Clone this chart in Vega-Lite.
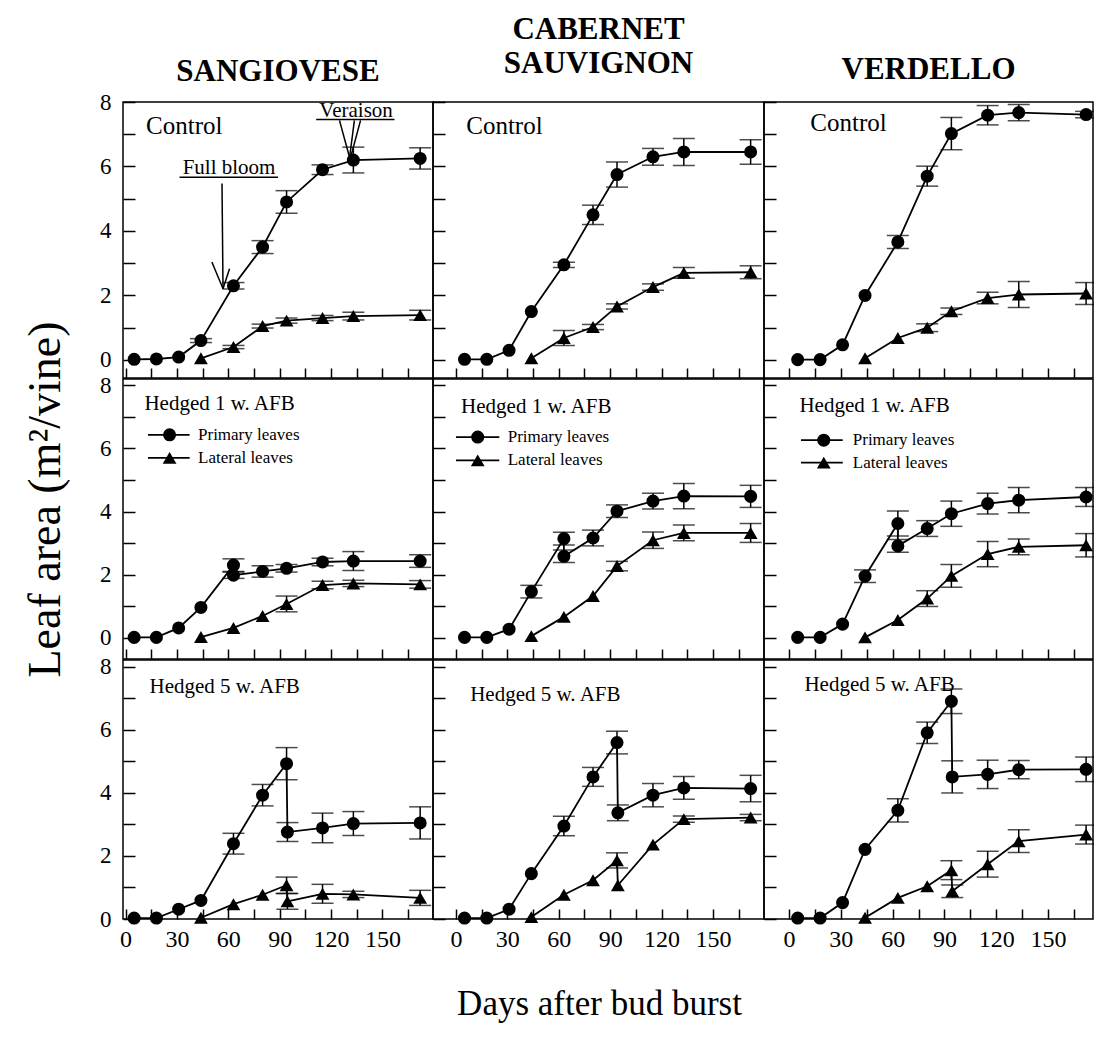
{
"$schema": "https://vega.github.io/schema/vega-lite/v6.json",
"background": "white",
"padding": {"left": 21, "top": 13, "right": 0, "bottom": 10},
"config": {
  "view": {"stroke": "black", "strokeWidth": 1.5},
  "axis": {"domain": false, "grid": false, "ticks": true, "tickColor": "black", "tickWidth": 1.5, "labelFont": "Liberation Serif", "labelColor": "black", "titleFont": "Liberation Serif", "titleColor": "black", "titleFontWeight": "normal", "minExtent": 0},
  "text": {"font": "Liberation Serif", "color": "black"},
  "title": {"font": "Liberation Serif", "color": "black"}
},
"datasets": {
  "pts": [
    {"p":"S1","s":"P","i":1,"d":5,"v":0.02,"e":0},{"p":"S1","s":"P","i":2,"d":18,"v":0.03,"e":0},{"p":"S1","s":"P","i":3,"d":31,"v":0.09,"e":0},{"p":"S1","s":"P","i":4,"d":44,"v":0.6,"e":0.06},{"p":"S1","s":"P","i":5,"d":63,"v":2.3,"e":0.1},{"p":"S1","s":"P","i":6,"d":80,"v":3.5,"e":0.2},{"p":"S1","s":"P","i":7,"d":94,"v":4.9,"e":0.35},{"p":"S1","s":"P","i":8,"d":115,"v":5.9,"e":0.15},{"p":"S1","s":"P","i":9,"d":133,"v":6.2,"e":0.4},{"p":"S1","s":"P","i":10,"d":172,"v":6.25,"e":0.33},
    {"p":"S1","s":"L","i":1,"d":44,"v":0.05,"e":0},{"p":"S1","s":"L","i":2,"d":63,"v":0.4,"e":0.05},{"p":"S1","s":"L","i":3,"d":80,"v":1.05,"e":0.06},{"p":"S1","s":"L","i":4,"d":94,"v":1.22,"e":0.08},{"p":"S1","s":"L","i":5,"d":115,"v":1.3,"e":0.08},{"p":"S1","s":"L","i":6,"d":133,"v":1.36,"e":0.12},{"p":"S1","s":"L","i":7,"d":172,"v":1.39,"e":0.15},
    {"p":"C1","s":"P","i":1,"d":5,"v":0.02,"e":0},{"p":"C1","s":"P","i":2,"d":18,"v":0.02,"e":0},{"p":"C1","s":"P","i":3,"d":31,"v":0.3,"e":0},{"p":"C1","s":"P","i":4,"d":44,"v":1.5,"e":0},{"p":"C1","s":"P","i":5,"d":63,"v":2.95,"e":0.08},{"p":"C1","s":"P","i":6,"d":80,"v":4.5,"e":0.3},{"p":"C1","s":"P","i":7,"d":94,"v":5.75,"e":0.39},{"p":"C1","s":"P","i":8,"d":115,"v":6.3,"e":0.26},{"p":"C1","s":"P","i":9,"d":133,"v":6.45,"e":0.42},{"p":"C1","s":"P","i":10,"d":172,"v":6.45,"e":0.38},
    {"p":"C1","s":"L","i":1,"d":44,"v":0.05,"e":0},{"p":"C1","s":"L","i":2,"d":63,"v":0.68,"e":0.23},{"p":"C1","s":"L","i":3,"d":80,"v":1.02,"e":0.08},{"p":"C1","s":"L","i":4,"d":94,"v":1.66,"e":0.08},{"p":"C1","s":"L","i":5,"d":115,"v":2.26,"e":0.1},{"p":"C1","s":"L","i":6,"d":133,"v":2.7,"e":0.17},{"p":"C1","s":"L","i":7,"d":172,"v":2.72,"e":0.2},
    {"p":"V1","s":"P","i":1,"d":5,"v":0.01,"e":0},{"p":"V1","s":"P","i":2,"d":18,"v":0.01,"e":0},{"p":"V1","s":"P","i":3,"d":31,"v":0.47,"e":0},{"p":"V1","s":"P","i":4,"d":44,"v":2.0,"e":0},{"p":"V1","s":"P","i":5,"d":63,"v":3.66,"e":0.2},{"p":"V1","s":"P","i":6,"d":80,"v":5.7,"e":0.31},{"p":"V1","s":"P","i":7,"d":94,"v":7.02,"e":0.5},{"p":"V1","s":"P","i":8,"d":115,"v":7.59,"e":0.3},{"p":"V1","s":"P","i":9,"d":133,"v":7.67,"e":0.25},{"p":"V1","s":"P","i":10,"d":172,"v":7.61,"e":0.1},
    {"p":"V1","s":"L","i":1,"d":44,"v":0.05,"e":0},{"p":"V1","s":"L","i":2,"d":63,"v":0.68,"e":0},{"p":"V1","s":"L","i":3,"d":80,"v":1.0,"e":0.12},{"p":"V1","s":"L","i":4,"d":94,"v":1.51,"e":0.1},{"p":"V1","s":"L","i":5,"d":115,"v":1.92,"e":0.18},{"p":"V1","s":"L","i":6,"d":133,"v":2.03,"e":0.4},{"p":"V1","s":"L","i":7,"d":172,"v":2.06,"e":0.34},
    {"p":"S2","s":"P","i":1,"d":5,"v":0.01,"e":0},{"p":"S2","s":"P","i":2,"d":18,"v":0.01,"e":0},{"p":"S2","s":"P","i":3,"d":31,"v":0.31,"e":0},{"p":"S2","s":"P","i":4,"d":44,"v":0.96,"e":0},{"p":"S2","s":"P","i":5,"d":63,"v":2.3,"e":0.2},{"p":"S2","s":"P","i":6,"d":63,"v":1.98,"e":0.1},{"p":"S2","s":"P","i":7,"d":80,"v":2.1,"e":0.18},{"p":"S2","s":"P","i":8,"d":94,"v":2.2,"e":0.12},{"p":"S2","s":"P","i":9,"d":115,"v":2.4,"e":0.12},{"p":"S2","s":"P","i":10,"d":133,"v":2.43,"e":0.3},{"p":"S2","s":"P","i":11,"d":172,"v":2.43,"e":0.2},
    {"p":"S2","s":"L","i":1,"d":44,"v":0.02,"e":0},{"p":"S2","s":"L","i":2,"d":63,"v":0.31,"e":0},{"p":"S2","s":"L","i":3,"d":80,"v":0.69,"e":0},{"p":"S2","s":"L","i":4,"d":94,"v":1.07,"e":0.25},{"p":"S2","s":"L","i":5,"d":115,"v":1.67,"e":0.12},{"p":"S2","s":"L","i":6,"d":133,"v":1.72,"e":0.1},{"p":"S2","s":"L","i":7,"d":172,"v":1.69,"e":0.12},
    {"p":"C2","s":"P","i":1,"d":5,"v":0.01,"e":0},{"p":"C2","s":"P","i":2,"d":18,"v":0.01,"e":0},{"p":"C2","s":"P","i":3,"d":31,"v":0.27,"e":0},{"p":"C2","s":"P","i":4,"d":44,"v":1.46,"e":0.2},{"p":"C2","s":"P","i":5,"d":63,"v":3.14,"e":0.2},{"p":"C2","s":"P","i":6,"d":63,"v":2.58,"e":0.2},{"p":"C2","s":"P","i":7,"d":80,"v":3.16,"e":0.25},{"p":"C2","s":"P","i":8,"d":94,"v":4.01,"e":0.2},{"p":"C2","s":"P","i":9,"d":115,"v":4.33,"e":0.25},{"p":"C2","s":"P","i":10,"d":133,"v":4.49,"e":0.4},{"p":"C2","s":"P","i":11,"d":172,"v":4.48,"e":0.35},
    {"p":"C2","s":"L","i":1,"d":44,"v":0.05,"e":0},{"p":"C2","s":"L","i":2,"d":63,"v":0.66,"e":0},{"p":"C2","s":"L","i":3,"d":80,"v":1.32,"e":0},{"p":"C2","s":"L","i":4,"d":94,"v":2.27,"e":0.15},{"p":"C2","s":"L","i":5,"d":115,"v":3.09,"e":0.26},{"p":"C2","s":"L","i":6,"d":133,"v":3.32,"e":0.25},{"p":"C2","s":"L","i":7,"d":172,"v":3.32,"e":0.3},
    {"p":"V2","s":"P","i":1,"d":5,"v":0.01,"e":0},{"p":"V2","s":"P","i":2,"d":18,"v":0.01,"e":0},{"p":"V2","s":"P","i":3,"d":31,"v":0.43,"e":0},{"p":"V2","s":"P","i":4,"d":44,"v":1.95,"e":0.2},{"p":"V2","s":"P","i":5,"d":63,"v":3.62,"e":0.4},{"p":"V2","s":"P","i":6,"d":63,"v":2.91,"e":0.2},{"p":"V2","s":"P","i":7,"d":80,"v":3.46,"e":0.25},{"p":"V2","s":"P","i":8,"d":94,"v":3.93,"e":0.4},{"p":"V2","s":"P","i":9,"d":115,"v":4.25,"e":0.33},{"p":"V2","s":"P","i":10,"d":133,"v":4.36,"e":0.4},{"p":"V2","s":"P","i":11,"d":172,"v":4.46,"e":0.3},
    {"p":"V2","s":"L","i":1,"d":44,"v":0.01,"e":0},{"p":"V2","s":"L","i":2,"d":63,"v":0.56,"e":0},{"p":"V2","s":"L","i":3,"d":80,"v":1.24,"e":0.25},{"p":"V2","s":"L","i":4,"d":94,"v":1.96,"e":0.36},{"p":"V2","s":"L","i":5,"d":115,"v":2.65,"e":0.4},{"p":"V2","s":"L","i":6,"d":133,"v":2.88,"e":0.25},{"p":"V2","s":"L","i":7,"d":172,"v":2.93,"e":0.37},
    {"p":"S3","s":"P","i":1,"d":5,"v":0.03,"e":0},{"p":"S3","s":"P","i":2,"d":18,"v":0.03,"e":0},{"p":"S3","s":"P","i":3,"d":31,"v":0.31,"e":0},{"p":"S3","s":"P","i":4,"d":44,"v":0.59,"e":0},{"p":"S3","s":"P","i":5,"d":63,"v":2.39,"e":0.33},{"p":"S3","s":"P","i":6,"d":80,"v":3.93,"e":0.34},{"p":"S3","s":"P","i":7,"d":94,"v":4.93,"e":0.51},{"p":"S3","s":"P","i":8,"d":94.5,"v":2.76,"e":0.3},{"p":"S3","s":"P","i":9,"d":115,"v":2.89,"e":0.47},{"p":"S3","s":"P","i":10,"d":133,"v":3.03,"e":0.38},{"p":"S3","s":"P","i":11,"d":172,"v":3.05,"e":0.51},
    {"p":"S3","s":"L","i":1,"d":44,"v":0.04,"e":0},{"p":"S3","s":"L","i":2,"d":63,"v":0.47,"e":0},{"p":"S3","s":"L","i":3,"d":80,"v":0.77,"e":0},{"p":"S3","s":"L","i":4,"d":94,"v":1.07,"e":0.26},{"p":"S3","s":"L","i":5,"d":94.5,"v":0.56,"e":0.25},{"p":"S3","s":"L","i":6,"d":115,"v":0.8,"e":0.3},{"p":"S3","s":"L","i":7,"d":133,"v":0.78,"e":0.1},{"p":"S3","s":"L","i":8,"d":172,"v":0.67,"e":0.24},
    {"p":"C3","s":"P","i":1,"d":5,"v":0.03,"e":0},{"p":"C3","s":"P","i":2,"d":18,"v":0.03,"e":0},{"p":"C3","s":"P","i":3,"d":31,"v":0.31,"e":0},{"p":"C3","s":"P","i":4,"d":44,"v":1.44,"e":0},{"p":"C3","s":"P","i":5,"d":63,"v":2.95,"e":0.31},{"p":"C3","s":"P","i":6,"d":80,"v":4.51,"e":0.3},{"p":"C3","s":"P","i":7,"d":94,"v":5.6,"e":0.36},{"p":"C3","s":"P","i":8,"d":94.5,"v":3.37,"e":0.25},{"p":"C3","s":"P","i":9,"d":115,"v":3.93,"e":0.37},{"p":"C3","s":"P","i":10,"d":133,"v":4.16,"e":0.36},{"p":"C3","s":"P","i":11,"d":172,"v":4.14,"e":0.42},
    {"p":"C3","s":"L","i":1,"d":44,"v":0.06,"e":0},{"p":"C3","s":"L","i":2,"d":63,"v":0.77,"e":0},{"p":"C3","s":"L","i":3,"d":80,"v":1.23,"e":0},{"p":"C3","s":"L","i":4,"d":94,"v":1.86,"e":0.24},{"p":"C3","s":"L","i":5,"d":94.5,"v":1.07,"e":0},{"p":"C3","s":"L","i":6,"d":115,"v":2.36,"e":0},{"p":"C3","s":"L","i":7,"d":133,"v":3.17,"e":0.1},{"p":"C3","s":"L","i":8,"d":172,"v":3.22,"e":0.1},
    {"p":"V3","s":"P","i":1,"d":5,"v":0.03,"e":0},{"p":"V3","s":"P","i":2,"d":18,"v":0.03,"e":0},{"p":"V3","s":"P","i":3,"d":31,"v":0.52,"e":0},{"p":"V3","s":"P","i":4,"d":44,"v":2.21,"e":0},{"p":"V3","s":"P","i":5,"d":63,"v":3.45,"e":0.37},{"p":"V3","s":"P","i":6,"d":80,"v":5.91,"e":0.34},{"p":"V3","s":"P","i":7,"d":94,"v":6.91,"e":0.39},{"p":"V3","s":"P","i":8,"d":94.5,"v":4.51,"e":0.51},{"p":"V3","s":"P","i":9,"d":115,"v":4.59,"e":0.45},{"p":"V3","s":"P","i":10,"d":133,"v":4.74,"e":0.29},{"p":"V3","s":"P","i":11,"d":172,"v":4.75,"e":0.39},
    {"p":"V3","s":"L","i":1,"d":44,"v":0.04,"e":0},{"p":"V3","s":"L","i":2,"d":63,"v":0.67,"e":0},{"p":"V3","s":"L","i":3,"d":80,"v":1.04,"e":0},{"p":"V3","s":"L","i":4,"d":94,"v":1.55,"e":0.3},{"p":"V3","s":"L","i":5,"d":94.5,"v":0.88,"e":0.2},{"p":"V3","s":"L","i":6,"d":115,"v":1.74,"e":0.41},{"p":"V3","s":"L","i":7,"d":133,"v":2.47,"e":0.36},{"p":"V3","s":"L","i":8,"d":172,"v":2.68,"e":0.3}
  ],
  "lab": [
    {"p":"S1","d":12,"v":7.26,"t":"Control"},{"p":"C1","d":6,"v":7.26,"t":"Control"},{"p":"V1","d":12.3,"v":7.36,"t":"Control"},
    {"p":"S2","d":11,"v":7.41,"t":"Hedged 1 w. AFB"},{"p":"C2","d":3,"v":7.31,"t":"Hedged 1 w. AFB"},{"p":"V2","d":6,"v":7.36,"t":"Hedged 1 w. AFB"},
    {"p":"S3","d":14,"v":7.37,"t":"Hedged 5 w. AFB"},{"p":"C3","d":8.3,"v":7.1,"t":"Hedged 5 w. AFB"},{"p":"V3","d":8.9,"v":7.42,"t":"Hedged 5 w. AFB"}
  ],
  "legl": [
    {"p":"S2","d":13.1,"d2":37.4,"v":6.43},{"p":"S2","d":13.1,"d2":37.4,"v":5.7},
    {"p":"C2","d":0,"d2":25.3,"v":6.36},{"p":"C2","d":0,"d2":25.3,"v":5.62},
    {"p":"V2","d":6.9,"d2":31.1,"v":6.26},{"p":"V2","d":6.9,"d2":31.1,"v":5.55}
  ],
  "legp": [
    {"p":"S2","s":"P","d":25.7,"v":6.43},{"p":"S2","s":"L","d":25.7,"v":5.7},
    {"p":"C2","s":"P","d":12.7,"v":6.36},{"p":"C2","s":"L","d":12.7,"v":5.62},
    {"p":"V2","s":"P","d":20.1,"v":6.26},{"p":"V2","s":"L","d":20.1,"v":5.55}
  ],
  "legt": [
    {"p":"S2","d":42.3,"v":6.43,"t":"Primary leaves"},{"p":"S2","d":42.3,"v":5.7,"t":"Lateral leaves"},
    {"p":"C2","d":30.2,"v":6.36,"t":"Primary leaves"},{"p":"C2","d":30.2,"v":5.62,"t":"Lateral leaves"},
    {"p":"V2","d":36.9,"v":6.26,"t":"Primary leaves"},{"p":"V2","d":36.9,"v":5.55,"t":"Lateral leaves"}
  ],
  "seg": [
    {"d":31.5,"v":5.67,"d2":89,"v2":5.67},{"d":56.3,"v":5.47,"d2":56.9,"v2":2.21},{"d":50.4,"v":3.04,"d2":56.9,"v2":2.21},{"d":60.7,"v":2.83,"d2":56.9,"v2":2.21},
    {"d":111.3,"v":7.46,"d2":157,"v2":7.46},{"d":124.9,"v":7.43,"d2":130.8,"v2":6.28},{"d":133.6,"v":7.43,"d2":130.8,"v2":6.28},{"d":137.2,"v":7.43,"d2":131.5,"v2":6.3}
  ],
  "note": [
    {"d":60.4,"v":5.95,"t":"Full bloom"},{"d":134.6,"v":7.71,"t":"Veraison"}
  ]
},
"columns": 3,
"spacing": {"row": 1, "column": 0},
"bounds": "flush",
"concat": [
  {
    "width": 310, "height": 276,
    "title": {"text": "SANGIOVESE", "fontSize": 31, "fontWeight": "bold", "baseline": "bottom", "offset": -28, "anchor": "middle"},
    "encoding": {
      "x": {"field": "d", "type": "quantitative", "scale": {"domain": [-1.5, 179.5], "nice": false, "zero": false}, "axis": {"values": [0,15,30,45,60,75,90,105,120,135,150,165], "labels": false, "tickSize": -10, "title": null}},
      "y": {"field": "v", "type": "quantitative", "scale": {"domain": [-0.56, 8], "nice": false, "zero": false}, "axis": {"values": [0,1,2,3,4,5,6,7,8], "labelExpr": "datum.value % 2 == 0 ? datum.label : ''", "labelFontSize": 23, "labelPadding": 24, "labelFlush": false, "labelOverlap": false, "tickSize": -12, "title": null}}
    },
    "layer": [
      {"data": {"name": "pts"}, "transform": [{"filter": "datum.p == 'S1' && datum.e > 0"}], "mark": {"type": "errorbar", "ticks": true, "size": 22, "thickness": 1.5, "color": "black"}, "encoding": {"yError": {"field": "e"}}},
      {"data": {"name": "pts"}, "transform": [{"filter": "datum.p == 'S1'"}], "mark": {"type": "line", "color": "black", "strokeWidth": 1.8}, "encoding": {"detail": {"field": "s"}, "order": {"field": "i", "type": "quantitative"}}},
      {"data": {"name": "pts"}, "transform": [{"filter": "datum.p == 'S1'"}], "mark": {"type": "point", "filled": true, "color": "black", "opacity": 1}, "encoding": {"shape": {"field": "s", "type": "nominal", "scale": {"domain": ["P","L"], "range": ["circle","triangle-up"]}, "legend": null}, "size": {"condition": {"test": "datum.s == 'P'", "value": 170}, "value": 190}}},
      {"data": {"name": "lab"}, "transform": [{"filter": "datum.p == 'S1'"}], "mark": {"type": "text", "align": "left", "baseline": "middle", "fontSize": 25}, "encoding": {"text": {"field": "t"}}},
      {"data": {"name": "seg"}, "mark": {"type": "rule", "color": "black", "strokeWidth": 1.5}, "encoding": {"x2": {"field": "d2"}, "y2": {"field": "v2"}}},
      {"data": {"name": "note"}, "mark": {"type": "text", "align": "center", "baseline": "middle", "fontSize": 21}, "encoding": {"text": {"field": "t"}}}
    ]
  },
  {
    "width": 331, "height": 276,
    "title": {"text": ["CABERNET", "SAUVIGNON"], "fontSize": 31, "fontWeight": "bold", "baseline": "bottom", "offset": -10, "lineHeight": 34, "anchor": "middle"},
    "encoding": {
      "x": {"field": "d", "type": "quantitative", "scale": {"domain": [-13.4, 179.8], "nice": false, "zero": false}, "axis": {"values": [0,15,30,45,60,75,90,105,120,135,150,165], "labels": false, "tickSize": -10, "title": null}},
      "y": {"field": "v", "type": "quantitative", "scale": {"domain": [-0.56, 8], "nice": false, "zero": false}, "axis": {"values": [0,1,2,3,4,5,6,7,8], "labels": false, "tickSize": -12, "title": null}}
    },
    "layer": [
      {"data": {"name": "pts"}, "transform": [{"filter": "datum.p == 'C1' && datum.e > 0"}], "mark": {"type": "errorbar", "ticks": true, "size": 22, "thickness": 1.5, "color": "black"}, "encoding": {"yError": {"field": "e"}}},
      {"data": {"name": "pts"}, "transform": [{"filter": "datum.p == 'C1'"}], "mark": {"type": "line", "color": "black", "strokeWidth": 1.8}, "encoding": {"detail": {"field": "s"}, "order": {"field": "i", "type": "quantitative"}}},
      {"data": {"name": "pts"}, "transform": [{"filter": "datum.p == 'C1'"}], "mark": {"type": "point", "filled": true, "color": "black", "opacity": 1}, "encoding": {"shape": {"field": "s", "type": "nominal", "scale": {"domain": ["P","L"], "range": ["circle","triangle-up"]}, "legend": null}, "size": {"condition": {"test": "datum.s == 'P'", "value": 170}, "value": 190}}},
      {"data": {"name": "lab"}, "transform": [{"filter": "datum.p == 'C1'"}], "mark": {"type": "text", "align": "left", "baseline": "middle", "fontSize": 25}, "encoding": {"text": {"field": "t"}}}
    ]
  },
  {
    "width": 329, "height": 276,
    "title": {"text": "VERDELLO", "fontSize": 31, "fontWeight": "bold", "baseline": "bottom", "offset": -16, "anchor": "middle"},
    "encoding": {
      "x": {"field": "d", "type": "quantitative", "scale": {"domain": [-14.5, 176], "nice": false, "zero": false}, "axis": {"values": [0,15,30,45,60,75,90,105,120,135,150,165], "labels": false, "tickSize": -10, "title": null}},
      "y": {"field": "v", "type": "quantitative", "scale": {"domain": [-0.56, 8], "nice": false, "zero": false}, "axis": {"values": [0,1,2,3,4,5,6,7,8], "labels": false, "tickSize": -12, "title": null}}
    },
    "layer": [
      {"data": {"name": "pts"}, "transform": [{"filter": "datum.p == 'V1' && datum.e > 0"}], "mark": {"type": "errorbar", "ticks": true, "size": 22, "thickness": 1.5, "color": "black"}, "encoding": {"yError": {"field": "e"}}},
      {"data": {"name": "pts"}, "transform": [{"filter": "datum.p == 'V1'"}], "mark": {"type": "line", "color": "black", "strokeWidth": 1.8}, "encoding": {"detail": {"field": "s"}, "order": {"field": "i", "type": "quantitative"}}},
      {"data": {"name": "pts"}, "transform": [{"filter": "datum.p == 'V1'"}], "mark": {"type": "point", "filled": true, "color": "black", "opacity": 1}, "encoding": {"shape": {"field": "s", "type": "nominal", "scale": {"domain": ["P","L"], "range": ["circle","triangle-up"]}, "legend": null}, "size": {"condition": {"test": "datum.s == 'P'", "value": 170}, "value": 190}}},
      {"data": {"name": "lab"}, "transform": [{"filter": "datum.p == 'V1'"}], "mark": {"type": "text", "align": "left", "baseline": "middle", "fontSize": 25}, "encoding": {"text": {"field": "t"}}}
    ]
  },
  {
    "width": 310, "height": 280,
    "encoding": {
      "x": {"field": "d", "type": "quantitative", "scale": {"domain": [-1.5, 179.5], "nice": false, "zero": false}, "axis": {"values": [0,15,30,45,60,75,90,105,120,135,150,165], "labels": false, "tickSize": -10, "title": null}},
      "y": {"field": "v", "type": "quantitative", "scale": {"domain": [-0.675, 8.2], "nice": false, "zero": false}, "axis": {"values": [0,1,2,3,4,5,6,7,8], "labelExpr": "datum.value % 2 == 0 ? datum.label : ''", "labelFontSize": 23, "labelPadding": 24, "labelFlush": false, "labelOverlap": false, "tickSize": -12, "title": "Leaf area (m²/vine)", "titleFontSize": 46, "titleX": -64, "titleY": 120, "titleAngle": -90, "titleBaseline": "alphabetic", "titleAlign": "center"}}
    },
    "layer": [
      {"data": {"name": "pts"}, "transform": [{"filter": "datum.p == 'S2' && datum.e > 0"}], "mark": {"type": "errorbar", "ticks": true, "size": 22, "thickness": 1.5, "color": "black"}, "encoding": {"yError": {"field": "e"}}},
      {"data": {"name": "pts"}, "transform": [{"filter": "datum.p == 'S2'"}], "mark": {"type": "line", "color": "black", "strokeWidth": 1.8}, "encoding": {"detail": {"field": "s"}, "order": {"field": "i", "type": "quantitative"}}},
      {"data": {"name": "pts"}, "transform": [{"filter": "datum.p == 'S2'"}], "mark": {"type": "point", "filled": true, "color": "black", "opacity": 1}, "encoding": {"shape": {"field": "s", "type": "nominal", "scale": {"domain": ["P","L"], "range": ["circle","triangle-up"]}, "legend": null}, "size": {"condition": {"test": "datum.s == 'P'", "value": 170}, "value": 190}}},
      {"data": {"name": "lab"}, "transform": [{"filter": "datum.p == 'S2'"}], "mark": {"type": "text", "align": "left", "baseline": "middle", "fontSize": 21}, "encoding": {"text": {"field": "t"}}},
      {"data": {"name": "legl"}, "transform": [{"filter": "datum.p == 'S2'"}], "mark": {"type": "rule", "color": "black", "strokeWidth": 1.8}, "encoding": {"x2": {"field": "d2"}}},
      {"data": {"name": "legp"}, "transform": [{"filter": "datum.p == 'S2'"}], "mark": {"type": "point", "filled": true, "color": "black", "opacity": 1}, "encoding": {"shape": {"field": "s", "type": "nominal", "scale": {"domain": ["P","L"], "range": ["circle","triangle-up"]}, "legend": null}, "size": {"condition": {"test": "datum.s == 'P'", "value": 170}, "value": 190}}},
      {"data": {"name": "legt"}, "transform": [{"filter": "datum.p == 'S2'"}], "mark": {"type": "text", "align": "left", "baseline": "middle", "fontSize": 17}, "encoding": {"text": {"field": "t"}}}
    ]
  },
  {
    "width": 331, "height": 280,
    "encoding": {
      "x": {"field": "d", "type": "quantitative", "scale": {"domain": [-13.4, 179.8], "nice": false, "zero": false}, "axis": {"values": [0,15,30,45,60,75,90,105,120,135,150,165], "labels": false, "tickSize": -10, "title": null}},
      "y": {"field": "v", "type": "quantitative", "scale": {"domain": [-0.675, 8.2], "nice": false, "zero": false}, "axis": {"values": [0,1,2,3,4,5,6,7,8], "labels": false, "tickSize": -12, "title": null}}
    },
    "layer": [
      {"data": {"name": "pts"}, "transform": [{"filter": "datum.p == 'C2' && datum.e > 0"}], "mark": {"type": "errorbar", "ticks": true, "size": 22, "thickness": 1.5, "color": "black"}, "encoding": {"yError": {"field": "e"}}},
      {"data": {"name": "pts"}, "transform": [{"filter": "datum.p == 'C2'"}], "mark": {"type": "line", "color": "black", "strokeWidth": 1.8}, "encoding": {"detail": {"field": "s"}, "order": {"field": "i", "type": "quantitative"}}},
      {"data": {"name": "pts"}, "transform": [{"filter": "datum.p == 'C2'"}], "mark": {"type": "point", "filled": true, "color": "black", "opacity": 1}, "encoding": {"shape": {"field": "s", "type": "nominal", "scale": {"domain": ["P","L"], "range": ["circle","triangle-up"]}, "legend": null}, "size": {"condition": {"test": "datum.s == 'P'", "value": 170}, "value": 190}}},
      {"data": {"name": "lab"}, "transform": [{"filter": "datum.p == 'C2'"}], "mark": {"type": "text", "align": "left", "baseline": "middle", "fontSize": 21}, "encoding": {"text": {"field": "t"}}},
      {"data": {"name": "legl"}, "transform": [{"filter": "datum.p == 'C2'"}], "mark": {"type": "rule", "color": "black", "strokeWidth": 1.8}, "encoding": {"x2": {"field": "d2"}}},
      {"data": {"name": "legp"}, "transform": [{"filter": "datum.p == 'C2'"}], "mark": {"type": "point", "filled": true, "color": "black", "opacity": 1}, "encoding": {"shape": {"field": "s", "type": "nominal", "scale": {"domain": ["P","L"], "range": ["circle","triangle-up"]}, "legend": null}, "size": {"condition": {"test": "datum.s == 'P'", "value": 170}, "value": 190}}},
      {"data": {"name": "legt"}, "transform": [{"filter": "datum.p == 'C2'"}], "mark": {"type": "text", "align": "left", "baseline": "middle", "fontSize": 17}, "encoding": {"text": {"field": "t"}}}
    ]
  },
  {
    "width": 329, "height": 280,
    "encoding": {
      "x": {"field": "d", "type": "quantitative", "scale": {"domain": [-14.5, 176], "nice": false, "zero": false}, "axis": {"values": [0,15,30,45,60,75,90,105,120,135,150,165], "labels": false, "tickSize": -10, "title": null}},
      "y": {"field": "v", "type": "quantitative", "scale": {"domain": [-0.675, 8.2], "nice": false, "zero": false}, "axis": {"values": [0,1,2,3,4,5,6,7,8], "labels": false, "tickSize": -12, "title": null}}
    },
    "layer": [
      {"data": {"name": "pts"}, "transform": [{"filter": "datum.p == 'V2' && datum.e > 0"}], "mark": {"type": "errorbar", "ticks": true, "size": 22, "thickness": 1.5, "color": "black"}, "encoding": {"yError": {"field": "e"}}},
      {"data": {"name": "pts"}, "transform": [{"filter": "datum.p == 'V2'"}], "mark": {"type": "line", "color": "black", "strokeWidth": 1.8}, "encoding": {"detail": {"field": "s"}, "order": {"field": "i", "type": "quantitative"}}},
      {"data": {"name": "pts"}, "transform": [{"filter": "datum.p == 'V2'"}], "mark": {"type": "point", "filled": true, "color": "black", "opacity": 1}, "encoding": {"shape": {"field": "s", "type": "nominal", "scale": {"domain": ["P","L"], "range": ["circle","triangle-up"]}, "legend": null}, "size": {"condition": {"test": "datum.s == 'P'", "value": 170}, "value": 190}}},
      {"data": {"name": "lab"}, "transform": [{"filter": "datum.p == 'V2'"}], "mark": {"type": "text", "align": "left", "baseline": "middle", "fontSize": 21}, "encoding": {"text": {"field": "t"}}},
      {"data": {"name": "legl"}, "transform": [{"filter": "datum.p == 'V2'"}], "mark": {"type": "rule", "color": "black", "strokeWidth": 1.8}, "encoding": {"x2": {"field": "d2"}}},
      {"data": {"name": "legp"}, "transform": [{"filter": "datum.p == 'V2'"}], "mark": {"type": "point", "filled": true, "color": "black", "opacity": 1}, "encoding": {"shape": {"field": "s", "type": "nominal", "scale": {"domain": ["P","L"], "range": ["circle","triangle-up"]}, "legend": null}, "size": {"condition": {"test": "datum.s == 'P'", "value": 170}, "value": 190}}},
      {"data": {"name": "legt"}, "transform": [{"filter": "datum.p == 'V2'"}], "mark": {"type": "text", "align": "left", "baseline": "middle", "fontSize": 17}, "encoding": {"text": {"field": "t"}}}
    ]
  },
  {
    "width": 310, "height": 259,
    "encoding": {
      "x": {"field": "d", "type": "quantitative", "scale": {"domain": [-1.5, 179.5], "nice": false, "zero": false}, "axis": {"values": [0,15,30,45,60,75,90,105,120,135,150,165], "labelExpr": "datum.value % 30 == 0 && datum.value <= 150 ? datum.label : ''", "labelFontSize": 24, "labelPadding": 18, "labelFlush": false, "labelOverlap": false, "tickSize": -10, "title": null}},
      "y": {"field": "v", "type": "quantitative", "scale": {"domain": [0, 8.22], "nice": false, "zero": false}, "axis": {"values": [0,1,2,3,4,5,6,7,8], "labelExpr": "datum.value % 2 == 0 ? datum.label : ''", "labelFontSize": 23, "labelPadding": 24, "labelFlush": false, "labelOverlap": false, "tickSize": -12, "title": null}}
    },
    "layer": [
      {"data": {"name": "pts"}, "transform": [{"filter": "datum.p == 'S3' && datum.e > 0"}], "mark": {"type": "errorbar", "ticks": true, "size": 22, "thickness": 1.5, "color": "black"}, "encoding": {"yError": {"field": "e"}}},
      {"data": {"name": "pts"}, "transform": [{"filter": "datum.p == 'S3'"}], "mark": {"type": "line", "color": "black", "strokeWidth": 1.8}, "encoding": {"detail": {"field": "s"}, "order": {"field": "i", "type": "quantitative"}}},
      {"data": {"name": "pts"}, "transform": [{"filter": "datum.p == 'S3'"}], "mark": {"type": "point", "filled": true, "color": "black", "opacity": 1}, "encoding": {"shape": {"field": "s", "type": "nominal", "scale": {"domain": ["P","L"], "range": ["circle","triangle-up"]}, "legend": null}, "size": {"condition": {"test": "datum.s == 'P'", "value": 170}, "value": 190}}},
      {"data": {"name": "lab"}, "transform": [{"filter": "datum.p == 'S3'"}], "mark": {"type": "text", "align": "left", "baseline": "middle", "fontSize": 21}, "encoding": {"text": {"field": "t"}}}
    ]
  },
  {
    "width": 331, "height": 259,
    "encoding": {
      "x": {"field": "d", "type": "quantitative", "scale": {"domain": [-13.4, 179.8], "nice": false, "zero": false}, "axis": {"values": [0,15,30,45,60,75,90,105,120,135,150,165], "labelExpr": "datum.value % 30 == 0 && datum.value <= 150 ? datum.label : ''", "labelFontSize": 24, "labelPadding": 18, "labelFlush": false, "labelOverlap": false, "tickSize": -10, "title": "Days after bud burst", "titleFontSize": 35, "titleX": 166, "titleY": 95, "titleBaseline": "alphabetic", "titleAlign": "center"}},
      "y": {"field": "v", "type": "quantitative", "scale": {"domain": [0, 8.22], "nice": false, "zero": false}, "axis": {"values": [0,1,2,3,4,5,6,7,8], "labels": false, "tickSize": -12, "title": null}}
    },
    "layer": [
      {"data": {"name": "pts"}, "transform": [{"filter": "datum.p == 'C3' && datum.e > 0"}], "mark": {"type": "errorbar", "ticks": true, "size": 22, "thickness": 1.5, "color": "black"}, "encoding": {"yError": {"field": "e"}}},
      {"data": {"name": "pts"}, "transform": [{"filter": "datum.p == 'C3'"}], "mark": {"type": "line", "color": "black", "strokeWidth": 1.8}, "encoding": {"detail": {"field": "s"}, "order": {"field": "i", "type": "quantitative"}}},
      {"data": {"name": "pts"}, "transform": [{"filter": "datum.p == 'C3'"}], "mark": {"type": "point", "filled": true, "color": "black", "opacity": 1}, "encoding": {"shape": {"field": "s", "type": "nominal", "scale": {"domain": ["P","L"], "range": ["circle","triangle-up"]}, "legend": null}, "size": {"condition": {"test": "datum.s == 'P'", "value": 170}, "value": 190}}},
      {"data": {"name": "lab"}, "transform": [{"filter": "datum.p == 'C3'"}], "mark": {"type": "text", "align": "left", "baseline": "middle", "fontSize": 21}, "encoding": {"text": {"field": "t"}}}
    ]
  },
  {
    "width": 329, "height": 259,
    "encoding": {
      "x": {"field": "d", "type": "quantitative", "scale": {"domain": [-14.5, 176], "nice": false, "zero": false}, "axis": {"values": [0,15,30,45,60,75,90,105,120,135,150,165], "labelExpr": "datum.value % 30 == 0 && datum.value <= 150 ? datum.label : ''", "labelFontSize": 24, "labelPadding": 18, "labelFlush": false, "labelOverlap": false, "tickSize": -10, "title": null}},
      "y": {"field": "v", "type": "quantitative", "scale": {"domain": [0, 8.22], "nice": false, "zero": false}, "axis": {"values": [0,1,2,3,4,5,6,7,8], "labels": false, "tickSize": -12, "title": null}}
    },
    "layer": [
      {"data": {"name": "pts"}, "transform": [{"filter": "datum.p == 'V3' && datum.e > 0"}], "mark": {"type": "errorbar", "ticks": true, "size": 22, "thickness": 1.5, "color": "black"}, "encoding": {"yError": {"field": "e"}}},
      {"data": {"name": "pts"}, "transform": [{"filter": "datum.p == 'V3'"}], "mark": {"type": "line", "color": "black", "strokeWidth": 1.8}, "encoding": {"detail": {"field": "s"}, "order": {"field": "i", "type": "quantitative"}}},
      {"data": {"name": "pts"}, "transform": [{"filter": "datum.p == 'V3'"}], "mark": {"type": "point", "filled": true, "color": "black", "opacity": 1}, "encoding": {"shape": {"field": "s", "type": "nominal", "scale": {"domain": ["P","L"], "range": ["circle","triangle-up"]}, "legend": null}, "size": {"condition": {"test": "datum.s == 'P'", "value": 170}, "value": 190}}},
      {"data": {"name": "lab"}, "transform": [{"filter": "datum.p == 'V3'"}], "mark": {"type": "text", "align": "left", "baseline": "middle", "fontSize": 21}, "encoding": {"text": {"field": "t"}}}
    ]
  }
]
}
